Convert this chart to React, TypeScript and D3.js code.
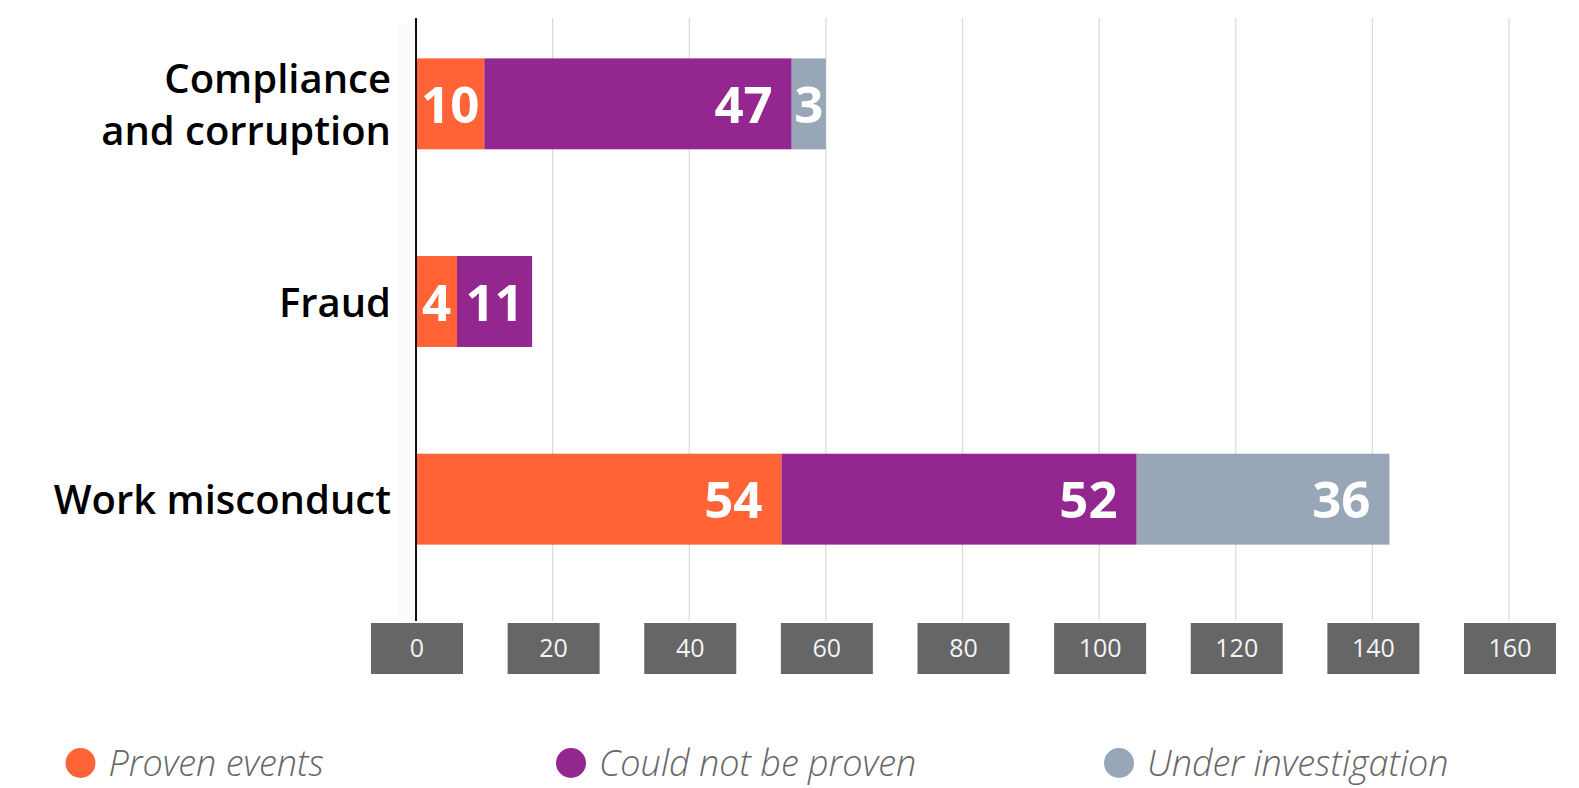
import React from "react";
import * as d3 from "d3";

const categories = ["Compliance and corruption", "Fraud", "Work misconduct"];
const categoryLines = [["Compliance", "and corruption"], ["Fraud"], ["Work misconduct"]];
const seriesNames = ["Proven events", "Could not be proven", "Under investigation"];
// bar lengths as drawn in the picture
const provenBars = [10, 6, 53.5];
const notProvenBars = [45, 11, 52];
const underInvestigationBars = [5, 0, 37];
// value labels as printed on the bars
const provenLabels = [10, 4, 54];
const notProvenLabels = [47, 11, 52];
const underInvestigationLabels = [3, 0, 36];
const xTicks = [0, 20, 40, 60, 80, 100, 120, 140, 160];
const colors = ["#FF6336", "#93278F", "#97A7B8"];

const W = 1579;
const H = 788;

export default function App() {
  const x = d3.scaleLinear().domain([0, 160]).range([416, 1509]);
  const y = d3.scaleBand<string>().domain(categories).range([5, 598]).paddingInner(0.54).paddingOuter(0.27);
  const bw = y.bandwidth();

  const labels = [provenLabels, notProvenLabels, underInvestigationLabels];
  const table = categories.map((c, i) => ({
    cat: c,
    vals: [provenBars[i], notProvenBars[i], underInvestigationBars[i]],
  }));
  const stack = d3.stack<any>().keys(["0", "1", "2"]).value((d: any, k: string) => d.vals[+k]);
  const stacked = stack(table as any);

  const font = "'Open Sans', 'DejaVu Sans', sans-serif";
  const gridTop = 18;
  const axisBottom = 621;
  const valFont = 51;
  const pad = 19;

  return (
    <svg width={W} height={H} style={{ position: "absolute", left: 0, top: 0, background: "#fff" }} fontFamily={font}>
      <rect x={398} y={25} width={18} height={595} fill="#fbfbfb" />
      {xTicks.slice(1).map((t) => (
        <line key={"g" + t} x1={x(t)} x2={x(t)} y1={gridTop} y2={axisBottom} stroke="#d9d9d9" strokeWidth={1.2} />
      ))}
      {stacked.map((layer, si) =>
        layer.map((d, ci) => {
          const v = d[1] - d[0];
          if (v <= 0) return null;
          const y0 = y(categories[ci])!;
          return (
            <rect key={`b${si}-${ci}`} x={x(d[0])} y={y0} width={x(d[1]) - x(d[0])} height={bw} fill={colors[si]} />
          );
        })
      )}
      {stacked.map((layer, si) =>
        layer.map((d, ci) => {
          const v = d[1] - d[0];
          if (v <= 0) return null;
          const lab = labels[si][ci];
          const cy = y(categories[ci])! + bw / 2;
          const segW = x(d[1]) - x(d[0]);
          const tw = String(lab).length * 0.57 * valFont;
          const fits = tw + 2 * pad <= segW;
          const lx = fits ? x(d[1]) - pad : (x(d[0]) + x(d[1])) / 2;
          return (
            <text key={`l${si}-${ci}`} x={lx} y={cy + 19} textAnchor={fits ? "end" : "middle"} fill="#fff" fontSize={valFont} fontWeight={700}>
              {lab}
            </text>
          );
        })
      )}
      <line x1={416} x2={416} y1={gridTop} y2={axisBottom} stroke="#111" strokeWidth={2} />
      {xTicks.map((t) => (
        <g key={"t" + t}>
          <rect x={x(t) - 45} y={623} width={92} height={51} fill="#666666" />
          <text x={x(t) + 1} y={657} textAnchor="middle" fill="#f4f4f4" fontSize={25}>
            {t}
          </text>
        </g>
      ))}
      {categories.map((c, i) => {
        const cy = y(c)! + bw / 2;
        const lines = categoryLines[i];
        const lh = 52;
        return (
          <text key={"c" + c} textAnchor="end" fill="#000" fontSize={40} fontWeight={600}>
            {lines.map((ln, k) => (
              <tspan key={k} x={391} y={cy + 15 + (k - (lines.length - 1) / 2) * lh}>
                {ln}
              </tspan>
            ))}
          </text>
        );
      })}
      {seriesNames.map((s, i) => {
        const cx = [80.5, 571, 1119][i];
        return (
          <g key={"lg" + s}>
            <circle cx={cx} cy={763} r={15} fill={colors[i]} />
            <text x={cx + 28} y={776} fill="#666" fontSize={36} fontStyle="italic" fontWeight={300}>
              {s}
            </text>
          </g>
        );
      })}
    </svg>
  );
}
